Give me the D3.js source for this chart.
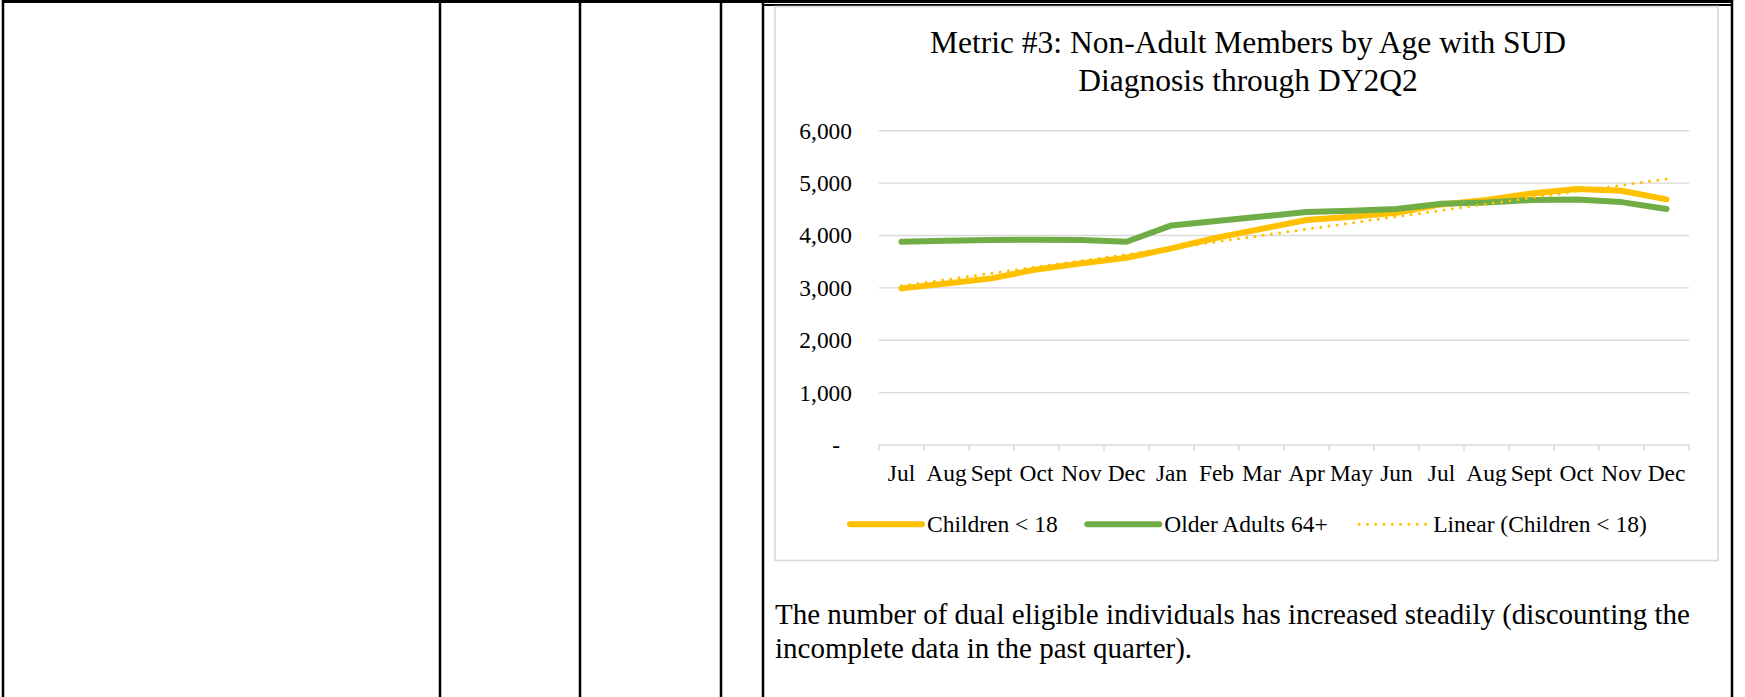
<!DOCTYPE html>
<html><head><meta charset="utf-8">
<script src="https://cdn.jsdelivr.net/npm/d3@7"></script>
<style>
html,body{margin:0;padding:0;background:#fff;}
svg{display:block;}
text{font-family:"Liberation Serif","Times New Roman",serif;fill:#000;}
</style></head><body>
<svg id="c" width="1745" height="697"></svg>
<script>
// ---- data ----
const months = ["Jul","Aug","Sept","Oct","Nov","Dec","Jan","Feb","Mar","Apr","May","Jun","Jul","Aug","Sept","Oct","Nov","Dec"];
const childrenValues = [2990,3085,3181,3352,3467,3575,3753,3957,4125,4294,4357,4434,4593,4676,4803,4885,4854,4688];
const olderAdultValues = [3880,3900,3915,3918,3912,3880,4192,4275,4362,4447,4472,4504,4606,4631,4676,4688,4637,4504];
const yTickValues = [0,1000,2000,3000,4000,5000,6000];
const yTickLabels = ["-","1,000","2,000","3,000","4,000","5,000","6,000"];
const seriesNames = ["Children < 18","Older Adults 64+","Linear (Children < 18)"];
const seriesColors = ["#FFC000","#70AD47","#FFC000"];
const titleLines = ["Metric #3: Non-Adult Members by Age with SUD","Diagnosis through DY2Q2"];
const noteLines = ["The number of dual eligible individuals has increased steadily (discounting the","incomplete data in the past quarter)."];

const svg = d3.select("#c");

// ---- document table borders ----
const vLines = [3, 440, 580, 721, 763, 1732];
svg.selectAll("line.v").data(vLines).enter().append("line")
  .attr("x1",d=>d).attr("x2",d=>d).attr("y1",0).attr("y2",697)
  .attr("stroke","#000").attr("stroke-width",2.5);
svg.append("line").attr("x1",2).attr("x2",1733).attr("y1",1.5).attr("y2",1.5)
  .attr("stroke","#000").attr("stroke-width",3);
svg.append("line").attr("x1",763).attr("x2",1732).attr("y1",5).attr("y2",5)
  .attr("stroke","#000").attr("stroke-width",2);

// ---- chart frame ----
svg.append("rect").attr("x",775).attr("y",6.5).attr("width",943).attr("height",554)
  .attr("fill","#fff").attr("stroke","#d9d9d9").attr("stroke-width",1.6);

// ---- scales ----
const x = d3.scaleBand().domain(d3.range(months.length)).range([879,1689]).padding(0);
const y = d3.scaleLinear().domain([0,6000]).range([445,130.7]);
const cx = i => x(i) + x.bandwidth()/2;

// gridlines
svg.append("g").selectAll("line").data(yTickValues).enter().append("line")
  .attr("x1",x.range()[0]).attr("x2",x.range()[1])
  .attr("y1",d=>y(d)).attr("y2",d=>y(d))
  .attr("stroke","#d9d9d9").attr("stroke-width",1.4);

// category boundary ticks
const bounds = d3.range(months.length+1).map(i => i < months.length ? x(i) : x.range()[1]);
svg.append("g").selectAll("line").data(bounds).enter().append("line")
  .attr("x1",d=>d).attr("x2",d=>d).attr("y1",y(0)).attr("y2",y(0)+6)
  .attr("stroke","#d9d9d9").attr("stroke-width",1.4);

// x axis labels
const xAxis = svg.append("g").attr("transform",`translate(0,${y(0)})`)
  .call(d3.axisBottom(x).tickSize(0).tickFormat(i=>months[i]));
xAxis.select(".domain").remove();
xAxis.selectAll("text").attr("y",35.7).attr("dy",0)
  .style("font-family",'"Liberation Serif",serif').style("font-size","23.4px").attr("fill","#000");

// y axis labels
const yAxis = svg.append("g").attr("transform","translate(852,0)")
  .call(d3.axisLeft(y).tickValues(yTickValues).tickSize(0).tickPadding(0)
    .tickFormat((d,i)=>yTickLabels[i]));
yAxis.select(".domain").remove();
yAxis.selectAll("text").attr("dy","0.32em")
  .style("font-family",'"Liberation Serif",serif').style("font-size","23.4px").attr("fill","#000")
  .attr("x",d=>d===0?-12:0);

// ---- series ----
const line = d3.line().x((d,i)=>cx(i)).y(d=>y(d));
svg.append("path").datum(childrenValues).attr("d",line)
  .attr("fill","none").attr("stroke",seriesColors[0]).attr("stroke-width",6)
  .attr("stroke-linejoin","round").attr("stroke-linecap","round");
svg.append("path").datum(olderAdultValues).attr("d",line)
  .attr("fill","none").attr("stroke",seriesColors[1]).attr("stroke-width",6)
  .attr("stroke-linejoin","round").attr("stroke-linecap","round");

// linear trendline of Children < 18 (least squares, as Excel does)
const n = childrenValues.length;
const mx = d3.mean(d3.range(n)), my = d3.mean(childrenValues);
const slope = d3.sum(d3.range(n), i => (i-mx)*(childrenValues[i]-my)) / d3.sum(d3.range(n), i => (i-mx)*(i-mx));
const icpt = my - slope*mx;
const trend = [0, n-1].map(i => ({i, v: icpt + slope*i}));
svg.append("path").datum(trend)
  .attr("d", d3.line().x(d=>cx(d.i)).y(d=>y(d.v)))
  .attr("fill","none").attr("stroke",seriesColors[2]).attr("stroke-width",3)
  .attr("stroke-dasharray","0 8.3").attr("stroke-linecap","round");

// ---- title ----
svg.append("g").selectAll("text").data(titleLines).enter().append("text")
  .attr("x",1248).attr("y",(d,i)=>53 + i*38)
  .attr("text-anchor","middle").style("font-size","31.5px").text(d=>d);

// ---- legend ----
const legY = 524.3;
let lx = 850;
seriesNames.forEach((name,i)=>{
  const g = svg.append("g");
  const sym = g.append("line").attr("x1",lx).attr("x2",lx+(i===2?69:72)).attr("y1",legY).attr("y2",legY)
    .attr("stroke",seriesColors[i]);
  if(i===2){ sym.attr("stroke-width",3).attr("stroke-dasharray","0 8.3").attr("stroke-linecap","round").attr("x1",lx+2); }
  else { sym.attr("stroke-width",6).attr("stroke-linecap","round"); }
  lx += (i===2?76:77);
  const t = g.append("text").attr("x",lx).attr("y",legY).attr("dy","0.32em")
    .style("font-size","23.5px").text(name);
  lx += t.node().getComputedTextLength() + 29.5;
});

// ---- note text ----
svg.append("g").selectAll("text").data(noteLines).enter().append("text")
  .attr("x",775).attr("y",(d,i)=>624 + i*33.5)
  .style("font-size","29px").text(d=>d);
</script>
</body></html>
